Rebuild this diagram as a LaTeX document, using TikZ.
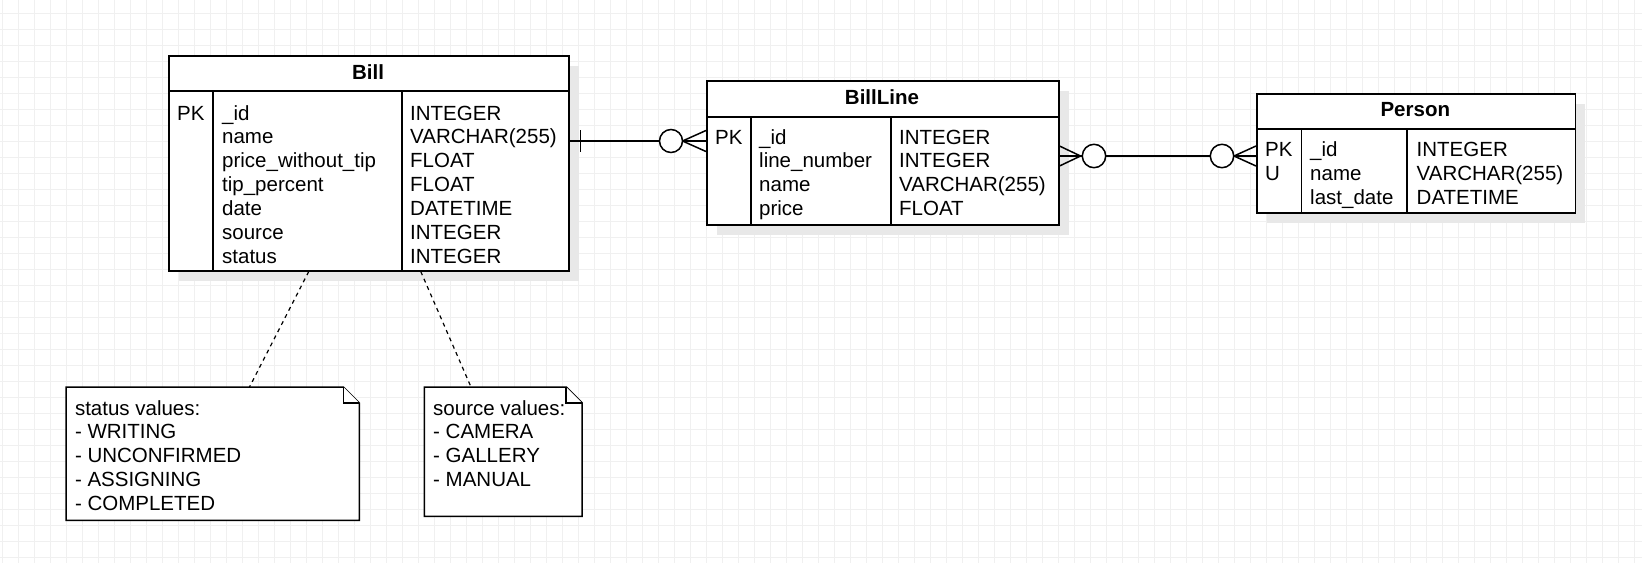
\documentclass[tikz,border=0pt]{standalone}
\usepackage{fontspec}
\setmainfont{Liberation Sans}
\usetikzlibrary{calc,shadows}
\newcommand\erfont{\fontsize{20.5}{24}\selectfont}
\newcommand\colrows[4]{\foreach \txt [count=\i from 0] in {#4} {\node[cell] (#1\i) at ({#2},{#3+23.9*\i}) {\txt};}}
\newcommand\noterows[4]{\foreach \txt [count=\i from 0] in {#4} {\node[cell] (#1\i) at ({#2},{#3+23.75*\i}) {\txt};}}
\begin{document}
\begin{tikzpicture}[x=1pt,y=-1pt,
  tbl/.style={draw, line width=1.5pt, fill=white, inner sep=0pt, anchor=north west,
    drop shadow={shadow xshift=10pt, shadow yshift=-10pt, opacity=1, fill=black!9}},
  tline/.style={line width=1.5pt},
  cell/.style={anchor=base west, inner sep=0pt, font=\erfont},
  head/.style={anchor=base, inner sep=0pt, font=\erfont\bfseries},
  conn/.style={line width=1.5pt},
  circ/.style={line width=1.5pt, draw, fill=white},
  notebox/.style={inner sep=0pt, anchor=north west},
  noteline/.style={line width=1.5pt, fill=white},
  dashln/.style={line width=1.2pt, dash pattern=on 4pt off 4pt},
  gridln/.style={black!6, line width=0.8pt}
]
\useasboundingbox (0,0) rectangle (1642,563);
\fill[white] (0,0) rectangle (1642,563);
% grid
\foreach \x in {2.7,18.7,...,1642} \draw[gridln] (\x,0) -- (\x,563);
\foreach \y in {13.3,29.3,...,563} \draw[gridln] (0,\y) -- (1642,\y);

% ---------- Bill ----------
\node[tbl, minimum width=400pt, minimum height=215pt] (bill) at (168,55) {};
\draw[tline] ($(bill.north west)+(0,36)$) -- ($(bill.north east)+(0,36)$);
\draw[tline] ($(bill.north west)+(45,36)$) -- ($(bill.south west)+(45,0)$);
\draw[tline] ($(bill.north west)+(234,36)$) -- ($(bill.south west)+(234,0)$);
\node[head] (billh) at (368,79) {Bill};
\colrows{billk}{177}{120}{PK}
\colrows{billf}{222}{120}{\_id,name,price\_without\_tip,tip\_percent,date,source,status}
\colrows{billt}{410}{120}{INTEGER,VARCHAR(255),FLOAT,FLOAT,DATETIME,INTEGER,INTEGER}

% ---------- BillLine ----------
\node[tbl, minimum width=352pt, minimum height=144pt] (billline) at (706,80) {};
\draw[tline] ($(billline.north west)+(0,37)$) -- ($(billline.north east)+(0,37)$);
\draw[tline] ($(billline.north west)+(45,37)$) -- ($(billline.south west)+(45,0)$);
\draw[tline] ($(billline.north west)+(185,37)$) -- ($(billline.south west)+(185,0)$);
\node[head] (billlineh) at (882,104) {BillLine};
\colrows{blk}{715}{144}{PK}
\colrows{blf}{759}{144}{\_id,line\_number,name,price}
\colrows{blt}{899}{144}{INTEGER,INTEGER,VARCHAR(255),FLOAT}

% ---------- Person ----------
\node[tbl, minimum width=318.6pt, minimum height=119pt] (person) at (1256,93) {};
\draw[tline] ($(person.north west)+(0,36)$) -- ($(person.north east)+(0,36)$);
\draw[tline] ($(person.north west)+(45.4,36)$) -- ($(person.south west)+(45.4,0)$);
\draw[tline] ($(person.north west)+(151,36)$) -- ($(person.south west)+(151,0)$);
\node[head] (personh) at (1415.3,116.7) {Person};
\colrows{pk}{1265}{156.7}{PK,U}
\colrows{pf}{1310}{156.7}{\_id,name,last\_date}
\colrows{pt}{1416.5}{156.7}{INTEGER,VARCHAR(255),DATETIME}

% ---------- Bill -> BillLine (one to zero-or-many) ----------
\coordinate (p1) at ($(bill.north east)+(0,86)$);
\coordinate (p2) at ($(billline.north west)+(0,61)$);
\draw[conn] (p1) -- (p2);
\draw[conn] ($(p1)+(11,-11)$) -- ($(p1)+(11,11)$);
\draw[conn] ($(p2)+(0,-10.5)$) -- ($(p2)+(-23.5,0)$) -- ($(p2)+(0,10.5)$);
\draw[circ] ($(p2)+(-35,0)$) circle (11.5);

% ---------- BillLine -> Person (many to many) ----------
\coordinate (p3) at ($(billline.north east)+(0,76)$);
\coordinate (p4) at ($(person.north west)+(0,63)$);
\draw[conn] (p3) -- (p4);
\draw[conn] ($(p3)+(0,-10)$) -- ($(p3)+(21,0)$) -- ($(p3)+(0,10)$);
\draw[circ] ($(p3)+(34.5,0)$) circle (11.7);
\draw[conn] ($(p4)+(0,-10)$) -- ($(p4)+(-22,0)$) -- ($(p4)+(0,10)$);
\draw[circ] ($(p4)+(-34,0)$) circle (11.7);

% ---------- Notes ----------
\node[notebox, minimum width=293pt, minimum height=133pt] (statusnote) at (66,387) {};
\draw[noteline] (statusnote.north west) -- ($(statusnote.north east)+(-16,0)$) -- ($(statusnote.north east)+(0,16)$) -- (statusnote.south east) -- (statusnote.south west) -- cycle;
\draw[noteline] ($(statusnote.north east)+(-16,0)$) -- ($(statusnote.north east)+(-16,16)$) -- ($(statusnote.north east)+(0,16)$);
\noterows{sn}{74.8}{415}{status values:,- WRITING,- UNCONFIRMED,- ASSIGNING,- COMPLETED}

\node[notebox, minimum width=157.5pt, minimum height=129pt] (sourcenote) at (424.3,387) {};
\draw[noteline] (sourcenote.north west) -- ($(sourcenote.north east)+(-16,0)$) -- ($(sourcenote.north east)+(0,16)$) -- (sourcenote.south east) -- (sourcenote.south west) -- cycle;
\draw[noteline] ($(sourcenote.north east)+(-16,0)$) -- ($(sourcenote.north east)+(-16,16)$) -- ($(sourcenote.north east)+(0,16)$);
\noterows{src}{433}{415}{source values:,- CAMERA,- GALLERY,- MANUAL}

% ---------- dashed links ----------
\draw[dashln] ($(bill.south)+(-60,0)$) -- ($(statusnote.north west)+(183.5,0)$);
\draw[dashln] ($(bill.south)+(52,0)$) -- ($(sourcenote.north west)+(46.7,0)$);
\end{tikzpicture}
\end{document}
